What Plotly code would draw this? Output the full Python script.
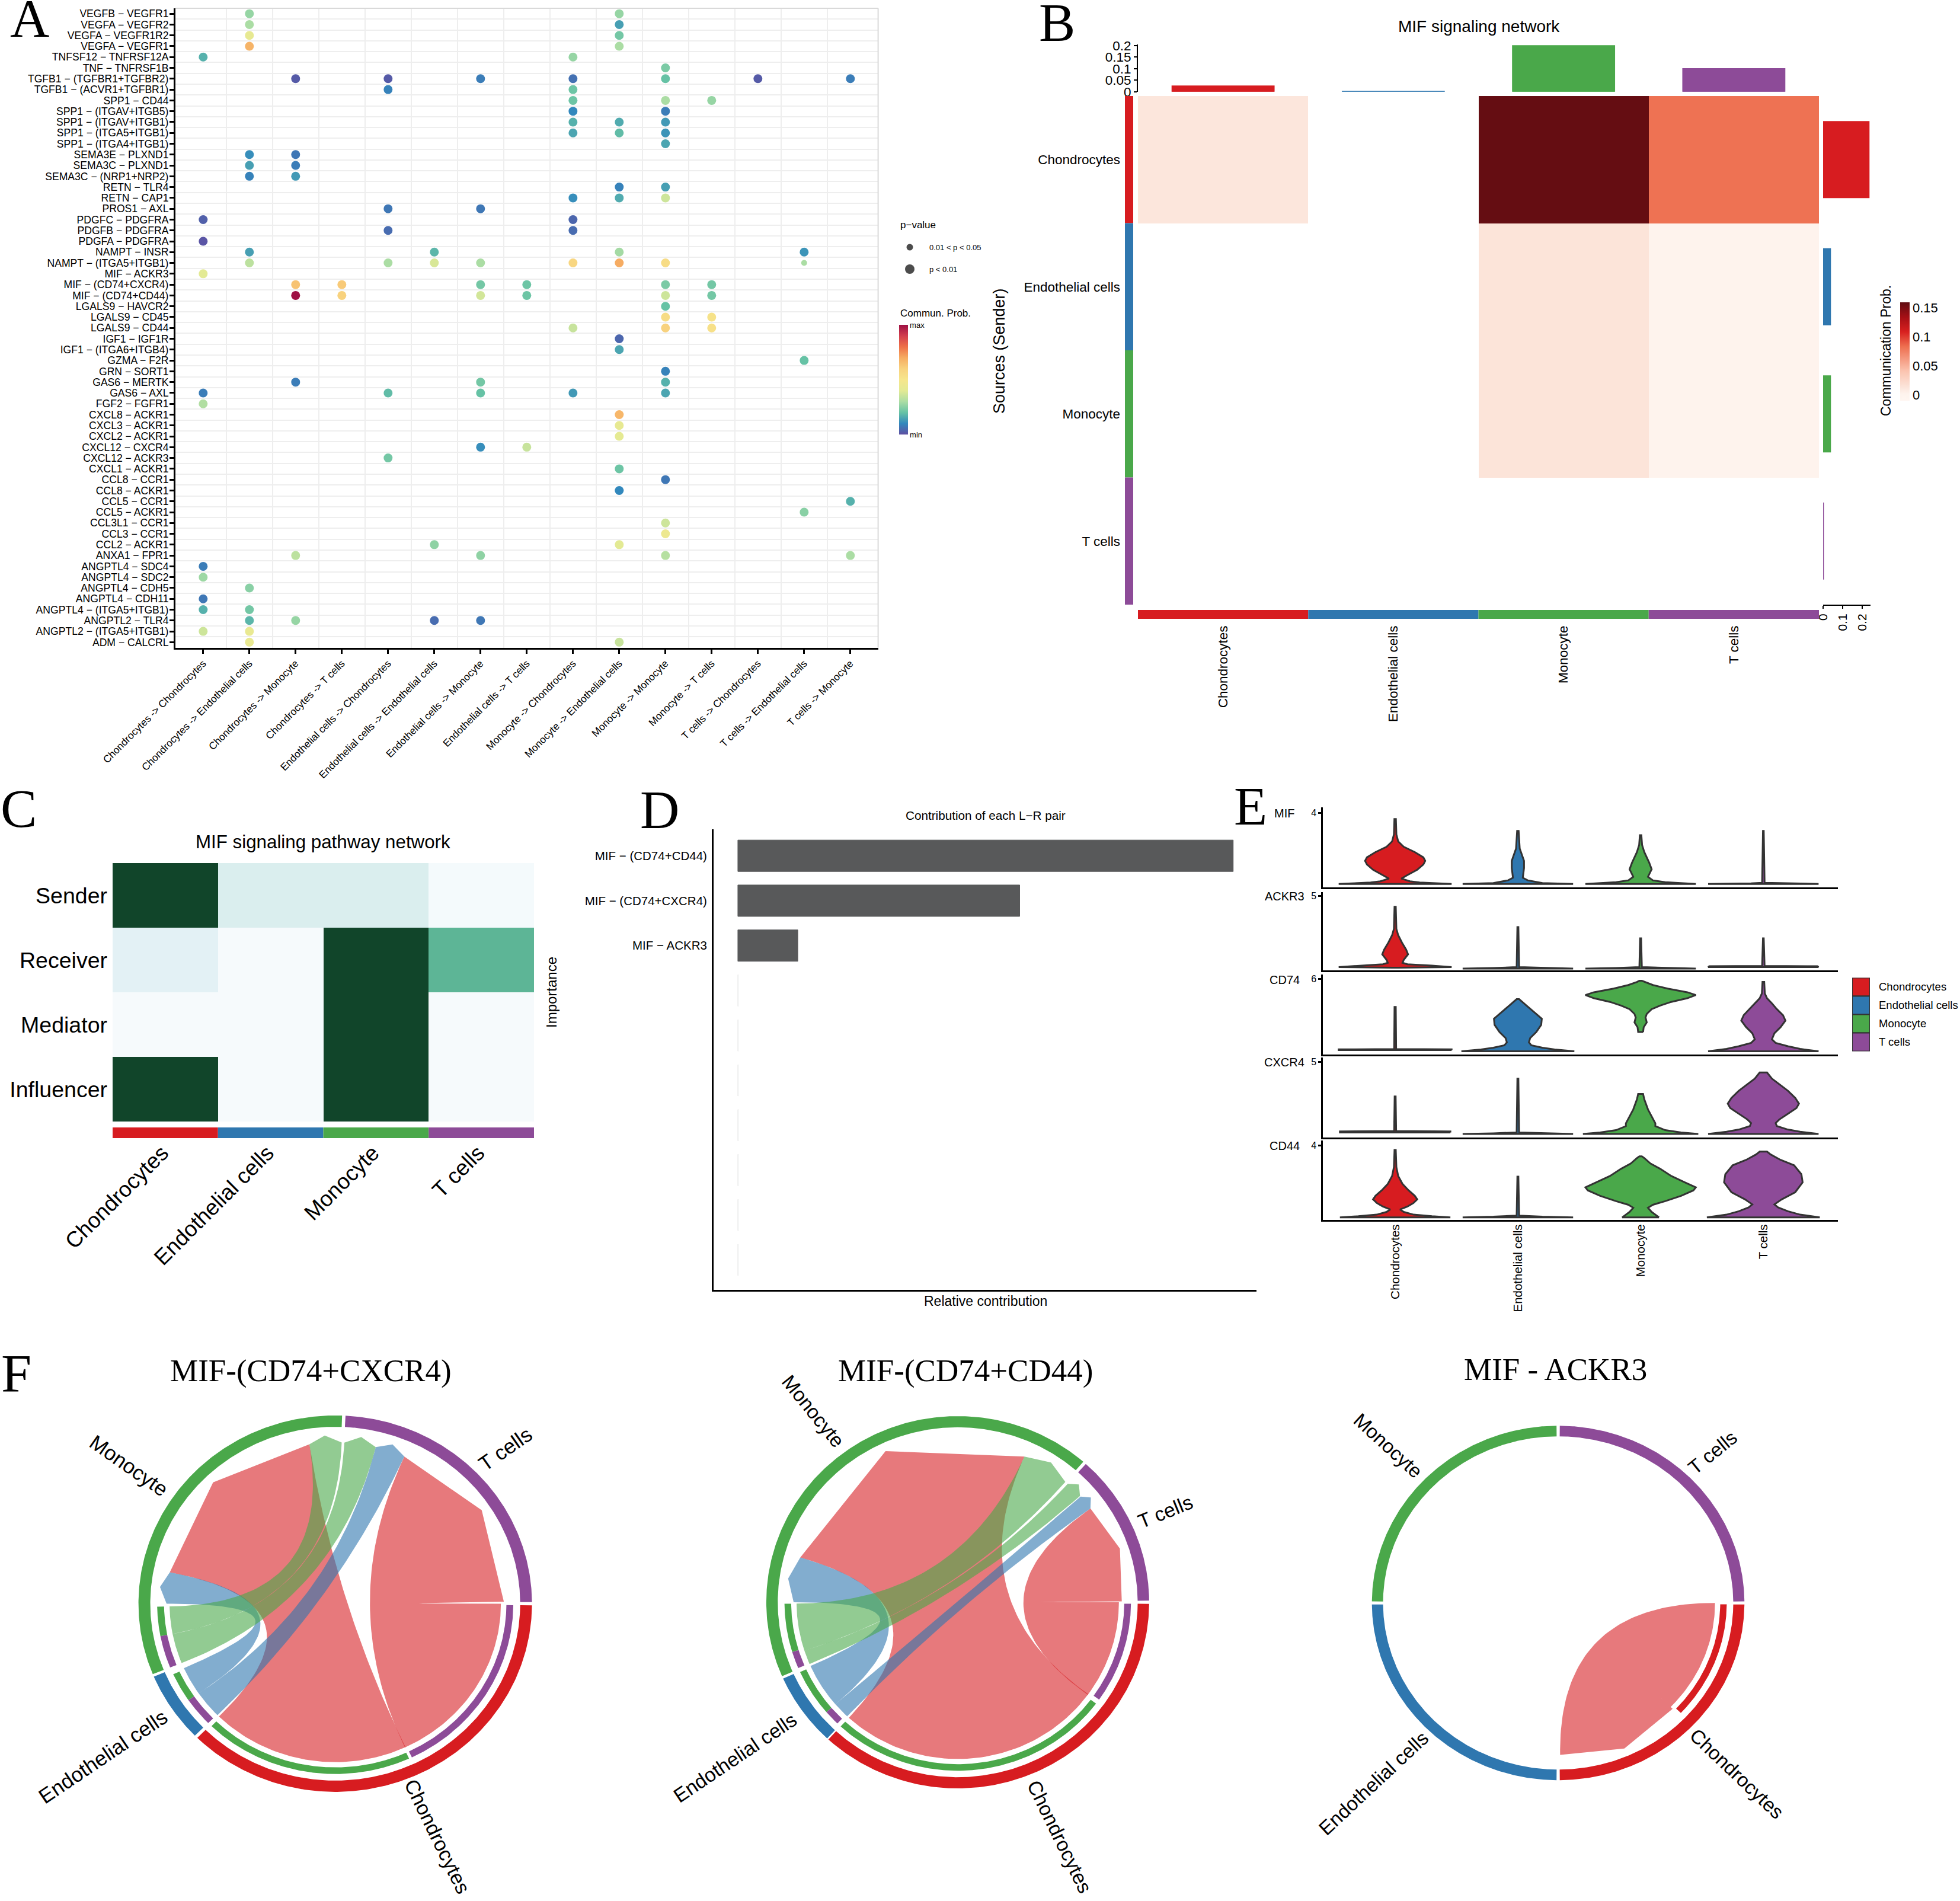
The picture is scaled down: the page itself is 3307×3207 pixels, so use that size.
import numpy as np
import plotly.graph_objects as go

W, H = 3307, 3207
SANS = "Liberation Sans"
SERIF = "Liberation Serif"
RED, BLUE, GREEN, PURPLE = "#D71C20", "#2F77AF", "#4AA84A", "#8D4B98"
CELL_COLORS = [RED, BLUE, GREEN, PURPLE]
RIB = {RED: "rgba(215,28,32,0.59)", BLUE: "rgba(47,119,175,0.6)", GREEN: "rgba(74,168,74,0.6)"}

cell_types = ["Chondrocytes", "Endothelial cells", "Monocyte", "T cells"]

# ---------- Panel A ----------
pairs_a = [
    "VEGFB − VEGFR1", "VEGFA − VEGFR2", "VEGFA − VEGFR1R2", "VEGFA − VEGFR1", "TNFSF12 − TNFRSF12A",
    "TNF − TNFRSF1B", "TGFB1 − (TGFBR1+TGFBR2)", "TGFB1 − (ACVR1+TGFBR1)", "SPP1 − CD44",
    "SPP1 − (ITGAV+ITGB5)", "SPP1 − (ITGAV+ITGB1)", "SPP1 − (ITGA5+ITGB1)", "SPP1 − (ITGA4+ITGB1)",
    "SEMA3E − PLXND1", "SEMA3C − PLXND1", "SEMA3C − (NRP1+NRP2)", "RETN − TLR4", "RETN − CAP1",
    "PROS1 − AXL", "PDGFC − PDGFRA", "PDGFB − PDGFRA", "PDGFA − PDGFRA", "NAMPT − INSR",
    "NAMPT − (ITGA5+ITGB1)", "MIF − ACKR3", "MIF − (CD74+CXCR4)", "MIF − (CD74+CD44)", "LGALS9 − HAVCR2",
    "LGALS9 − CD45", "LGALS9 − CD44", "IGF1 − IGF1R", "IGF1 − (ITGA6+ITGB4)", "GZMA − F2R", "GRN − SORT1",
    "GAS6 − MERTK", "GAS6 − AXL", "FGF2 − FGFR1", "CXCL8 − ACKR1", "CXCL3 − ACKR1", "CXCL2 − ACKR1",
    "CXCL12 − CXCR4", "CXCL12 − ACKR3", "CXCL1 − ACKR1", "CCL8 − CCR1", "CCL8 − ACKR1", "CCL5 − CCR1",
    "CCL5 − ACKR1", "CCL3L1 − CCR1", "CCL3 − CCR1", "CCL2 − ACKR1", "ANXA1 − FPR1", "ANGPTL4 − SDC4",
    "ANGPTL4 − SDC2", "ANGPTL4 − CDH5", "ANGPTL4 − CDH11", "ANGPTL4 − (ITGA5+ITGB1)", "ANGPTL2 − TLR4",
    "ANGPTL2 − (ITGA5+ITGB1)", "ADM − CALCRL",
]
pairs_x = [
    "Chondrocytes -> Chondrocytes", "Chondrocytes -> Endothelial cells", "Chondrocytes -> Monocyte",
    "Chondrocytes -> T cells", "Endothelial cells -> Chondrocytes", "Endothelial cells -> Endothelial cells",
    "Endothelial cells -> Monocyte", "Endothelial cells -> T cells", "Monocyte -> Chondrocytes",
    "Monocyte -> Endothelial cells", "Monocyte -> Monocyte", "Monocyte -> T cells", "T cells -> Chondrocytes",
    "T cells -> Endothelial cells", "T cells -> Monocyte",
]
# one entry per row of pairs_a: columns holding a dot and the relative probability of each
row_cols = [[2, 10], [2, 10], [2, 10], [2, 10], [1, 9], [11], [3, 5, 7, 9, 11, 13, 15], [5, 9], [9, 11, 12], [9, 11],
            [9, 10, 11], [9, 10, 11], [11], [2, 3], [2, 3], [2, 3], [10, 11], [9, 10, 11], [5, 7], [1, 9], [5, 9], [1],
            [2, 6, 10, 14], [2, 5, 6, 7, 9, 10, 11], [1], [3, 4, 7, 8, 11, 12], [3, 4, 7, 8, 11, 12], [11], [11, 12],
            [9, 11, 12], [10], [10], [14], [11], [3, 7, 11], [1, 5, 7, 9, 11], [1], [10], [10], [10], [7, 8], [5], [10],
            [11], [10], [15], [14], [11], [11], [6, 10], [3, 7, 11, 15], [1], [1], [2], [1], [1, 2], [2, 3, 6, 7],
            [1, 2], [2, 10]]
row_vals = [[.27, .27], [.3, .14], [.42, .22], [.68, .3], [.17, .27], [.23], [.02, .02, .08, .06, .2, .02, .08],
            [.09, .21], [.21, .3, .27], [.1, .08], [.17, .16, .13], [.15, .19, .12], [.15], [.11, .07], [.14, .08],
            [.09, .13], [.09, .14], [.11, .16, .36], [.07, .07], [.03, .04], [.05, .05], [.01], [.14, .18, .29, .12],
            [.33, .3, .38, .3, .58, .7, .55], [.4], [.64, .62, .22, .21, .23, .22], [1.0, .6, .37, .21, .36, .22],
            [.2], [.55, .52], [.35, .6, .53], [.04], [.15], [.2], [.09], [.08, .22, .17], [.08, .19, .2, .13, .15],
            [.31], [.67], [.42], [.41], [.11, .35], [.22], [.21], [.07], [.1], [.17], [.25], [.36], [.45], [.26, .4],
            [.33, .26, .32, .3], [.08], [.28], [.25], [.07], [.17, .22], [.18, .27, .05, .07], [.36, .43], [.43, .35]]
small_dot_row = [24]
small_dot_col = [14]
small_dot_val = [.3]
pvalue_labels = ["0.01 < p < 0.05", "p < 0.01"]
spectral = [[0, "#5E4FA2"], [.1, "#3288BD"], [.2, "#66C2A5"], [.3, "#ABDDA4"], [.4, "#E3EA94"], [.5, "#F6E68C"],
            [.6, "#F8D27E"], [.7, "#F6AC62"], [.8, "#EE7048"], [.9, "#D23E4E"], [1, "#9E1044"]]

# ---------- Panel B ----------
b_matrix = [[.012, None, .158, .082],
            [None, None, .014, .001],
            [None, None, .014, .001],
            [None, None, None, None]]
b_incoming = [.025, .002, .2, .1]
b_outgoing = [.235, .038, .038, .002]
b_scale = [[0, "#FFF6F1"], [.07, "#FEF3ED"], [.13, "#FCE6DC"], [.3, "#FBC4B0"], [.55, "#EE6F50"], [.7, "#D8201F"],
           [.85, "#A50F15"], [1, "#600D12"]]

# ---------- Panel C ----------
c_roles = ["Sender", "Receiver", "Mediator", "Influencer"]
c_matrix = [[1, .1, .1, .01], [.07, .005, 1, .5], [.005, .005, 1, .005], [1, .005, 1, .005]]
c_scale = [[0, "#F7FBFD"], [.07, "#E3F1F5"], [.1, "#DAEEEE"], [.25, "#CCECE6"], [.375, "#99D8C9"], [.5, "#5DB596"],
           [.625, "#41AE76"], [.75, "#238B45"], [.875, "#006D2C"], [1, "#11452A"]]

# ---------- Panel D ----------
d_positions = [1, 2, 3, 4, 5, 6, 7, 8, 9, 10]
d_labels = ["MIF − (CD74+CD44)", "MIF − (CD74+CXCR4)", "MIF − ACKR3", "", "", "", "", "", "", ""]
d_values = [1.0, .569, .121, .0005, .0005, .0005, .0005, .0005, .0005, .0005]

# ---------- Panel E (level, half width) ----------
mif_chondro = [(0, .46), (.03, .35), (.08, .2), (.15, .12), (.3, .05), (.5, .1), (.8, .18), (1.1, .23), (1.3, .245), (1.5, .23), (1.8, .16), (2.1, .07), (2.4, .025), (2.8, .01), (3.67, .006)]
mif_endo = [(0, .45), (.05, .2), (.2, .08), (.35, .04), (.9, .05), (1.3, .05), (2.0, .015), (3.0, .006)]
mif_mono = [(0, .45), (.1, .2), (.2, .1), (.4, .06), (.83, .09), (1.2, .07), (1.8, .03), (2.2, .012), (2.75, .006)]
mif_t = [(0, .45), (.03, .1), (.06, .01), (3.0, .003)]
ackr3_chondro = [(.06, .02), (.1, .46), (.2, .3), (.3, .1), (.4, .06), (.6, .07), (.98, .105), (1.3, .09), (1.8, .055), (2.3, .025), (2.75, .01), (4.27, .005)]
ackr3_endo = [(0, .45), (.04, .2), (.1, .01), (2.86, .004)]
ackr3_mono = [(0, .45), (.04, .2), (.1, .01), (2.09, .004)]
ackr3_t = [(.1, .45), (.16, .44), (.18, .01), (2.09, .003)]
cd74_chondro = [(.1, .46), (.16, .46), (.19, .008), (3.68, .005)]
cd74_endo = [(0, .46), (.15, .3), (.3, .2), (.5, .11), (.75, .09), (1.1, .1), (1.6, .15), (2.2, .19), (2.7, .195), (3.2, .14), (3.8, .07), (4.33, .01)]
cd74_mono = [(1.6, .02), (2.0, .025), (2.4, .05), (2.8, .04), (3.1, .05), (3.5, .09), (3.8, .16), (4.1, .25), (4.4, .38), (4.67, .45), (4.9, .38), (5.2, .22), (5.5, .1), (5.75, .03), (5.85, .01)]
cd74_t = [(0, .45), (.2, .3), (.42, .2), (.7, .1), (1.0, .07), (1.5, .09), (2.0, .14), (2.55, .18), (3.0, .16), (3.5, .11), (3.97, .07), (4.4, .03), (4.8, .012), (5.75, .007)]
cxcr4_chondro = [(.1, .45), (.17, .45), (.2, .008), (2.6, .004)]
cxcr4_endo = [(0, .45), (.04, .2), (.1, .01), (3.84, .004)]
cxcr4_mono = [(0, .47), (.1, .33), (.26, .2), (.54, .12), (.73, .12), (1.2, .09), (1.7, .06), (2.4, .03), (2.78, .02)]
cxcr4_t = [(0, .45), (.15, .3), (.3, .2), (.54, .11), (.75, .1), (1.0, .13), (1.4, .2), (1.8, .27), (2.1, .29), (2.5, .26), (3.0, .2), (3.4, .14), (3.84, .07), (4.27, .03)]
cd44_chondro = [(0, .45), (.06, .3), (.15, .15), (.3, .07), (.44, .04), (.6, .1), (.8, .15), (1.0, .18), (1.2, .16), (1.5, .11), (1.86, .06), (2.3, .025), (2.8, .01), (3.75, .005)]
cd44_endo = [(0, .45), (.04, .2), (.1, .01), (2.27, .004)]
cd44_mono = [(0, .15), (.1, .13), (.3, .09), (.53, .06), (.7, .1), (.9, .2), (1.2, .33), (1.5, .43), (1.67, .45), (1.95, .36), (2.3, .25), (2.7, .16), (3.0, .08), (3.3, .03), (3.4, .01)]
cd44_t = [(0, .46), (.15, .3), (.34, .2), (.55, .12), (.72, .09), (1.0, .15), (1.4, .26), (1.95, .32), (2.4, .31), (2.9, .25), (3.2, .14), (3.5, .06), (3.66, .03)]
genes = ["MIF", "ACKR3", "CD74", "CXCR4", "CD44"]
gene_ticks = [4, 5, 6, 5, 4]

# ---------- Panel F (angles in degrees) ----------
chord_titles = ["MIF-(CD74+CXCR4)", "MIF-(CD74+CD44)", "MIF - ACKR3"]
chord1_sectors = [(-.5, -134.5), (224.5, 202.8), (202, 88), (87, .5)]
chord2_sectors = [(-.5, -132.5), (227, 204.2), (203.4, 49), (48, .5)]
chord3_sectors = [(-.5, -89.5), (269.5, 180.5), (179.5, 90.5), (89.5, .5)]
chord1_tracks = [(-.5, -64.5, PURPLE), (-65.5, -134, GREEN), (204.5, 214.5, GREEN), (214.5, 224.5, PURPLE), (181, 191, GREEN), (191, 202, PURPLE)]
chord2_tracks = [(-.5, -35.3, PURPLE), (-37, -132.5, GREEN), (204.5, 220.7, GREEN), (220.7, 226, PURPLE), (180.5, 197.2, GREEN), (197.2, 203, PURPLE)]
chord3_tracks = [(-.5, -43.3, RED)]
# source start, source end, target start, target apex, target end, colour
chord1_ribbons = [(0, -65.1, .7, 33.7, 65.8, RED), (-64.9, -134.6, 98.8, 133.9, 168.8, RED),
                  (204, 214.5, 180, 174.3, 168.8, BLUE), (214.5, 224.7, 76.1, 71, 65.8, BLUE),
                  (181, 191, 98.8, 93.4, 87.8, GREEN), (191, 202, 86.9, 81.5, 76.1, GREEN)]
chord2_ribbons = [(0, -36.2, .3, 18.8, 36, RED), (-35.9, -132.5, 66, 114.9, 163.7, RED),
                  (204, 220.6, 180, 171.8, 163.7, BLUE), (220.6, 226.7, 41.5, 39, 36, BLUE),
                  (180.5, 198, 66, 57, 49, GREEN), (198, 203.2, 47.9, 45, 41.8, GREEN)]
chord3_ribbons = [(0, -44.2, -89.3, -66.6, -44.2, RED)]

# ===================== build =====================
fig = go.Figure()
layout = {}
anns = []
n_ax = 0


def ax(x0, y0, x1, y1, xr=None, yr=None, xk=None, yk=None):
    global n_ax
    n_ax += 1
    s = "" if n_ax == 1 else str(n_ax)
    base = dict(showgrid=False, zeroline=False, showticklabels=False, ticks="", showline=False, fixedrange=True)
    xa = dict(base, domain=[x0 / W, x1 / W], anchor="y" + s, range=xr)
    ya = dict(base, domain=[1 - y1 / H, 1 - y0 / H], anchor="x" + s, range=yr)
    xa.update(xk or {})
    ya.update(yk or {})
    layout["xaxis" + s] = xa
    layout["yaxis" + s] = ya
    return "x" + s, "y" + s


def text(px, py, s, size, family=SANS, angle=0, xanchor="center", yanchor="middle"):
    anns.append(dict(x=px / W, y=1 - py / H, xref="paper", yref="paper", text=s, showarrow=False, textangle=angle,
                     xanchor=xanchor, yanchor=yanchor, font=dict(size=size, family=family, color="black")))


def tf(size):
    return dict(size=size, family=SANS, color="black")


# --- panel A
xa, ya = ax(296, 14, 1481.6, 1092.5, [.4, 15.6], [59.5, .5],
            dict(showline=True, linewidth=3, linecolor="black", ticks="outside", ticklen=7, tickwidth=2.5, tickcolor="black",
                 tickmode="array", tickvals=list(range(1, 16)), ticktext=pairs_x, showticklabels=True, tickangle=-45,
                 tickfont=tf(17.2),
                 minor=dict(tickmode="array", tickvals=[i + .5 for i in range(1, 15)], showgrid=True, gridcolor="#EEEEEE", gridwidth=1.5, ticks="")),
            dict(showline=True, linewidth=3, linecolor="black", ticks="outside", ticklen=7, tickwidth=2.5, tickcolor="black",
                 tickmode="array", tickvals=list(range(1, 60)), ticktext=pairs_a, showticklabels=True, tickfont=tf(17.6),
                 ticklabelstandoff=-2,
                 minor=dict(tickmode="array", tickvals=[i + .5 for i in range(1, 59)], showgrid=True, gridcolor="#EEEEEE", gridwidth=1.5, ticks="")))
dx, dy, dv = [], [], []
for r, (cs, vs) in enumerate(zip(row_cols, row_vals), start=1):
    for c, v in zip(cs, vs):
        dx.append(c)
        dy.append(r)
        dv.append(v)
fig.add_trace(go.Scatter(x=dx, y=dy, xaxis=xa, yaxis=ya, mode="markers", showlegend=False,
                         marker=dict(size=15, color=dv, cmin=0, cmax=1, colorscale=spectral, line_width=0,
                                     colorbar=dict(x=1517 / W, xanchor="left", y=1 - 733 / H, yanchor="bottom", thickness=15,
                                                   len=185, lenmode="pixels", xpad=0, ypad=0, outlinewidth=0,
                                                   tickmode="array", tickvals=[0, 1], ticktext=["min", "max"], ticks="",
                                                   tickfont=tf(13)))))
fig.add_trace(go.Scatter(x=small_dot_col, y=small_dot_row, xaxis=xa, yaxis=ya, mode="markers", showlegend=False,
                         marker=dict(size=10, color=small_dot_val, cmin=0, cmax=1, colorscale=spectral, line_width=0)))
xa, ya = ax(1520, 398.5, 1550, 472.5, [-1, 1], [1.5, -.5])
fig.add_trace(go.Scatter(x=[0, 0], y=[0, 1], xaxis=xa, yaxis=ya, mode="markers", showlegend=False,
                         marker=dict(size=[11, 16], color="black", line_width=0)))
text(1517, 379, "p−value", 17, xanchor="left")
text(1566, 417, pvalue_labels[0], 13, xanchor="left")
text(1566, 454, pvalue_labels[1], 13, xanchor="left")
text(1517, 529, "Commun. Prob.", 17, xanchor="left")
shapes = [dict(type="line", xref="paper", yref="paper", x0=296 / W, x1=1481.6 / W, y0=1 - 14 / H, y1=1 - 14 / H, line=dict(color="#D9D9D9", width=2)),
          dict(type="line", xref="paper", yref="paper", x0=1481.6 / W, x1=1481.6 / W, y0=1 - 14 / H, y1=1 - 1092.5 / H, line=dict(color="#D9D9D9", width=2))]

# --- panel B
idx = [0, 1, 2, 3]
xa, ya = ax(1920, 162, 3069, 1020, [-.5, 3.5], [3.5, -.5])
fig.add_trace(go.Heatmap(z=b_matrix, x=idx, y=idx, xaxis=xa, yaxis=ya, zmin=-.01, zmax=.16, colorscale=b_scale, hoverongaps=False,
                         colorbar=dict(x=3206 / W, xanchor="left", y=1 - 676 / H, yanchor="bottom", thickness=16, len=166,
                                       lenmode="pixels", xpad=0, ypad=0, outlinewidth=0, tickmode="array",
                                       tickvals=[0, .05, .1, .15], ticktext=["0", "0.05", "0.1", "0.15"], ticks="",
                                       tickfont=tf(22))))
xa, ya = ax(1920, 75, 3069, 154.7, [-.5, 3.5], [0, .2052], None,
            dict(showline=True, linewidth=2, linecolor="black", ticks="outside", ticklen=5, tickwidth=2, tickcolor="black",
                 tickmode="array", tickvals=[0, .05, .1, .15, .2], ticktext=["0", "0.05", "0.1", "0.15", "0.2"],
                 showticklabels=True, tickfont=tf(22.5)))
fig.add_trace(go.Bar(x=idx, y=b_incoming, width=.6, xaxis=xa, yaxis=ya, showlegend=False, marker=dict(color=CELL_COLORS, line=dict(color=CELL_COLORS, width=1.5))))
xa, ya = ax(3076, 162, 3156, 1020, [0, .2424], [3.5, -.5],
            dict(showline=True, linewidth=2, linecolor="black", ticks="outside", ticklen=5, tickwidth=2, tickcolor="black",
                 tickmode="array", tickvals=[0, .1, .2], ticktext=["0", "0.1", "0.2"], showticklabels=True, tickangle=-90, tickfont=tf(21)))
fig.add_trace(go.Bar(y=idx, x=b_outgoing, width=.6, orientation="h", xaxis=xa, yaxis=ya, showlegend=False, marker=dict(color=CELL_COLORS, line=dict(color=CELL_COLORS, width=1.5))))
xa, ya = ax(1898, 162, 1912, 1020, [0, 1], [3.5, -.5], None,
            dict(tickmode="array", tickvals=idx, ticktext=cell_types, showticklabels=True, tickfont=tf(22.5), ticklabelstandoff=7))
fig.add_trace(go.Bar(y=idx, x=[1, 1, 1, 1], width=1, orientation="h", xaxis=xa, yaxis=ya, showlegend=False, marker=dict(color=CELL_COLORS, line_width=0)))
xa, ya = ax(1920, 1029, 3069, 1044, [-.5, 3.5], [0, 1],
            dict(tickmode="array", tickvals=idx, ticktext=cell_types, showticklabels=True, tickangle=-90, tickfont=tf(22.5), ticklabelstandoff=6))
fig.add_trace(go.Bar(x=idx, y=[1, 1, 1, 1], width=1, xaxis=xa, yaxis=ya, showlegend=False, marker=dict(color=CELL_COLORS, line_width=0)))
text(2495, 44, "MIF signaling network", 28)
text(1686, 592, "Sources (Sender)", 27, angle=-90)
text(3182, 592, "Communication Prob.", 23, angle=-90)

# --- panel C
xa, ya = ax(190, 1456, 901, 1892, [-.5, 3.5], [3.5, -.5], None,
            dict(tickmode="array", tickvals=idx, ticktext=c_roles, showticklabels=True, tickfont=tf(37.5), ticklabelstandoff=8))
fig.add_trace(go.Heatmap(z=c_matrix, x=idx, y=idx, xaxis=xa, yaxis=ya, zmin=0, zmax=1, colorscale=c_scale, showscale=False))
xa, ya = ax(190, 1902, 901, 1920, [-.5, 3.5], [0, 1],
            dict(tickmode="array", tickvals=[i - .03 for i in idx], ticktext=cell_types, showticklabels=True, tickangle=-45, tickfont=tf(37), ticklabelstandoff=-5))
fig.add_trace(go.Bar(x=idx, y=[1, 1, 1, 1], width=1, xaxis=xa, yaxis=ya, showlegend=False, marker=dict(color=CELL_COLORS, line_width=0)))
text(545, 1420, "MIF signaling pathway network", 31.3)
text(930, 1674, "Importance", 24, angle=-90)

# --- panel D
xa, ya = ax(1204, 1399, 2120, 2175.5, [-.049, 1.047], [10.66, .41],
            dict(showline=True, linewidth=3, linecolor="black"),
            dict(showline=True, linewidth=3, linecolor="black", tickmode="array", tickvals=d_positions, ticktext=d_labels,
                 showticklabels=True, tickfont=tf(20.5), ticklabelstandoff=4))
fig.add_trace(go.Bar(y=d_positions, x=d_values, width=.7, orientation="h", xaxis=xa, yaxis=ya, showlegend=False,
                     marker=dict(color="#58595A", line=dict(color=["#58595A"] * 3 + ["#EEEEEE"] * 7, width=1))))
text(1663, 1376, "Contribution of each L−R pair", 20.7)
text(1663, 2195, "Relative contribution", 23)

# --- panel E
violin_sets = [
    [mif_chondro, mif_endo, mif_mono, mif_t], [ackr3_chondro, ackr3_endo, ackr3_mono, ackr3_t],
    [cd74_chondro, cd74_endo, cd74_mono, cd74_t], [cxcr4_chondro, cxcr4_endo, cxcr4_mono, cxcr4_t],
    [cd44_chondro, cd44_endo, cd44_mono, cd44_t]]
panel_tops = [1362, 1505, 1644, 1784, 1924]
panel_bottoms = [1497.4, 1636.9, 1778.7, 1918.7, 2058.2]
panel_ranges = [[-.21, 4.33], [-.12, 5.28], [-.25, 6.37], [-.24, 5.31], [-.15, 4.28]]
label_y = [1372, 1512, 1653, 1792, 1933]
for i in range(5):
    xk = dict(showline=True, linewidth=3, linecolor="black")
    if i == 4:
        xk.update(tickmode="array", tickvals=idx, ticktext=cell_types, showticklabels=True, tickangle=-90, tickfont=tf(20.5), ticklabelstandoff=-4)
    xa, ya = ax(2232.4, panel_tops[i], 3100.7, panel_bottoms[i], [-.587, 3.606], panel_ranges[i], xk,
                dict(showline=True, linewidth=3, linecolor="black", ticks="outside", ticklen=5, tickwidth=2.5, tickcolor="black",
                     tickmode="array", tickvals=[gene_ticks[i]], ticktext=[str(gene_ticks[i])], showticklabels=True, tickfont=tf(16)))
    for c, prof in enumerate(violin_sets[i]):
        lv = [p[0] for p in prof]
        hw = [p[1] for p in prof]
        xs = [c + w for w in hw] + [c - w for w in reversed(hw)] + [c + hw[0]]
        ys = lv + list(reversed(lv)) + [lv[0]]
        fig.add_trace(go.Scatter(x=xs, y=ys, xaxis=xa, yaxis=ya, mode="lines", fill="toself", fillcolor=CELL_COLORS[c],
                                 showlegend=False, line=dict(color="#333333", width=3)))
    text(2167, label_y[i], genes[i], 20)
xa, ya = ax(3125, 1649.5, 3155, 1773.5, [0, 1], [3.5, -.5], None,
            dict(side="right", tickmode="array", tickvals=idx, ticktext=cell_types, showticklabels=True, tickfont=tf(18.5), ticklabelstandoff=14))
fig.add_trace(go.Bar(y=idx, x=[1, 1, 1, 1], width=1, orientation="h", xaxis=xa, yaxis=ya, showlegend=False,
                     marker=dict(color=CELL_COLORS, line=dict(color="#333333", width=2))))


# --- panel F
def polar(a, r):
    a = np.radians(a)
    return r * np.cos(a), r * np.sin(a)


def band(a0, a1, r0, r1, n=120):
    t = np.linspace(a0, a1, n)
    x0, y0 = polar(t, r1)
    x1, y1 = polar(t[::-1], r0)
    return np.r_[x0, x1, x0[0]], np.r_[y0, y1, y0[0]]


def bez(a, ra, b, rb, n=60):
    xa_, ya_ = polar(a, ra)
    xb_, yb_ = polar(b, rb)
    t = np.linspace(0, 1, n)
    return (1 - t) ** 2 * xa_ + t ** 2 * xb_, (1 - t) ** 2 * ya_ + t ** 2 * yb_


def ribbon(a1, a2, b1, apex, b2):
    ra, rb, rp = .842, .857, .895
    sx, sy = polar(np.linspace(a1, a2, 60), ra)
    e1x, e1y = bez(a2, ra, b2, rb)
    bx = np.array([polar(b2, rb)[0], polar(apex, rp)[0], polar(b1, rb)[0]])
    by = np.array([polar(b2, rb)[1], polar(apex, rp)[1], polar(b1, rb)[1]])
    e2x, e2y = bez(b1, rb, a1, ra)
    return np.r_[sx, e1x, bx, e2x], np.r_[sy, e1y, by, e2y]


chords = [
    (565.6, 2705.4, 332, 317.5, chord1_sectors, chord1_tracks, chord1_ribbons),
    (1615.9, 2703, 323, 314, chord2_sectors, chord2_tracks, chord2_ribbons),
    (2629, 2704.2, 314.3, 299, chord3_sectors, chord3_tracks, chord3_ribbons),
]
for cx, cy, rx, ry, sectors, tracks, ribbons in chords:
    k = 1.02
    xa, ya = ax(cx - k * rx, cy - k * ry, cx + k * rx, cy + k * ry, [-k, k], [-k, k])
    for (a0, a1, aa, bb, cc, col) in ribbons:
        px_, py_ = ribbon(a0, a1, aa, bb, cc)
        fig.add_trace(go.Scatter(x=px_, y=py_, xaxis=xa, yaxis=ya, mode="lines", fill="toself", fillcolor=RIB[col],
                                 line_width=0, showlegend=False))
    for (a0, a1, col) in tracks:
        px_, py_ = band(a0, a1, .87, .905)
        fig.add_trace(go.Scatter(x=px_, y=py_, xaxis=xa, yaxis=ya, mode="lines", fill="toself", fillcolor=col,
                                 line_width=0, showlegend=False))
    for (a0, a1), col in zip(sectors, CELL_COLORS):
        px_, py_ = band(a0, a1, .94, 1.0, 200)
        fig.add_trace(go.Scatter(x=px_, y=py_, xaxis=xa, yaxis=ya, mode="lines", fill="toself", fillcolor=col,
                                 line_width=0, showlegend=False))

text(524, 2312, chord_titles[0], 53, SERIF)
text(1629, 2312, chord_titles[1], 53, SERIF)
text(2624, 2310, chord_titles[2], 53, SERIF)
for px_, py_, s, ang, fs in [
    (218, 2472, "Monocyte", 35, 35), (852, 2444, "T cells", -35, 35), (173, 2963, "Endothelial cells", -34, 35), (738, 3098, "Chondrocytes", 64, 34),
    (1372, 2380, "Monocyte", 51, 33.5), (1966, 2550, "T cells", -22, 33.5), (1240, 2965, "Endothelial cells", -34, 33.5), (1788, 3098, "Chondrocytes", 64, 33.5),
    (2342, 2438, "Monocyte", 42.5, 33), (2889, 2450, "T cells", -39, 33), (2317, 3008, "Endothelial cells", -43, 33), (2931, 2992, "Chondrocytes", 43.5, 33),
]:
    text(px_, py_, s, fs, angle=ang)

for s, px_, py_ in [("A", 50, 31), ("B", 1783, 38), ("C", 31, 1364), ("D", 1113, 1366), ("E", 2110, 1360), ("F", 27, 2317)]:
    text(px_, py_, s, 92, SERIF)

fig.update_layout(width=W, height=H, autosize=False, margin=dict(l=0, r=0, t=0, b=0, pad=0, autoexpand=False),
                  paper_bgcolor="white", plot_bgcolor="rgba(0,0,0,0)", showlegend=False, barmode="overlay",
                  annotations=anns, shapes=shapes, **layout)
fig.write_html("out.html", post_script="document.body.style.margin='0';", config={"displayModeBar": False})
